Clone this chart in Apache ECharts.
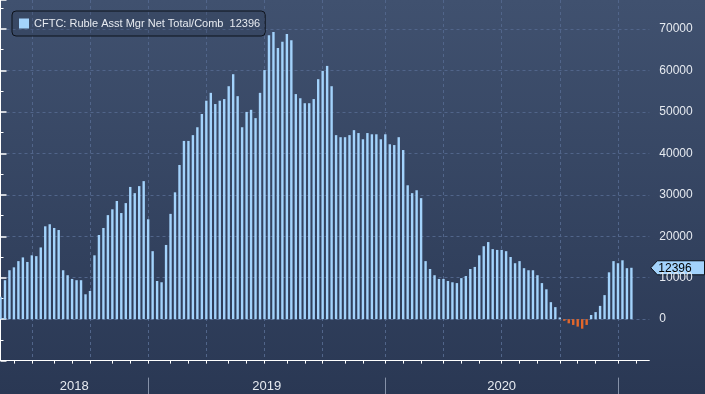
<!DOCTYPE html>
<html><head><meta charset="utf-8">
<script src="https://cdn.jsdelivr.net/npm/echarts@6/dist/echarts.min.js"></script>
<style>html,body{margin:0;padding:0;background:#2c3a56}#c{width:705px;height:394px}</style>
</head><body><div id="c"></div>
<script>
// ---- data ----
const seriesName = 'CFTC: Ruble Asst Mgr Net Total/Comb';
const startDate = [2018, 4, 15]; // first weekly observation (Tue 15 May 2018)
const values = [
  5400, 9400, 11800, 12500, 14000, 14900, 13800, 15400, 15200, 17300,
  22400, 22900, 22000, 21500, 11800, 10600, 9700, 9400, 9400, 6000,
  6800, 15400, 20300, 22000, 25100, 26500, 28500, 25600, 28000, 31900,
  30400, 32100, 33300, 24100, 16400, 9200, 8900, 17900, 25400, 30600,
  37200, 43000, 43000, 44400, 46300, 49500, 52700, 54600, 51900, 52700,
  53100, 56200, 59100, 53800, 46300, 50000, 50500, 48500, 54600, 60100,
  68500, 69300, 65400, 66900, 68800, 67300, 54300, 53300, 52100, 52100,
  53100, 57900, 59900, 61100, 56200, 44400, 43900, 43900, 44400, 45600,
  44900, 43400, 44900, 44600, 44600, 43400, 44600, 42200, 42000, 43900,
  40800, 32300, 30400, 31100, 29200, 14000, 12100, 10600, 9700, 9700,
  9200, 8900, 8700, 9900, 10400, 12100, 12600, 15400, 17600, 18600,
  16900, 16700, 16700, 16400, 15000, 13500, 14000, 12300, 11800, 11800,
  10600, 8700, 7200, 4100, 2900, 400, -400, -1000, -1400, -1800,
  -2300, -1400, 1000, 1700, 3200, 5800, 11300, 14000, 13500, 14200,
  12300, 12396
];
const emptyWeeksAfter = 4;
const yearLabels = ['2018', '2019', '2020'];
const yMin = -10000, yMax = 77000, yStep = 10000;

// ---- build ----
const N = values.length + emptyWeeksAfter;
const categories = [];
for (let i = 0; i < N; i++) {
  const d = new Date(Date.UTC(startDate[0], startDate[1], startDate[2]) + i * 7 * 86400000);
  categories.push(d.toISOString().slice(0, 10));
}
const isMonthStart = c => parseInt(c.slice(8, 10), 10) <= 7;
const isQuarterStart = c => isMonthStart(c) && (parseInt(c.slice(5, 7), 10) - 1) % 3 === 0;
const yearStarts = [];
categories.forEach((c, i) => { if (isMonthStart(c) && c.slice(5, 7) === '01') yearStarts.push(i); });
const bounds = [0].concat(yearStarts);
const yearPos = yearLabels.map((y, k) => (bounds[k] + bounds[k + 1]) / 2);
const yearByPos = {};
yearPos.forEach((p, k) => { yearByPos[p] = yearLabels[k]; });

const blue = '#a3d3fc', orange = '#e3672b';
const seriesData = values.map(v => v < 0 ? { value: v, itemStyle: { color: orange } } : v);
const last = values[values.length - 1];
const FONT = '"Liberation Sans", Arial, sans-serif';
const txt = '#e6eaf0';
const gridCol = '#51658a';

const chart = echarts.init(document.getElementById('c'), null, { renderer: 'canvas' });
chart.setOption({
  animation: false,
  backgroundColor: new echarts.graphic.LinearGradient(0, 0, 0, 1, [
    { offset: 0, color: '#40516f' }, { offset: 1, color: '#2a3854' }
  ]),
  grid: { left: 0.5, right: 55.7, top: 0, bottom: 33.4, containLabel: false },
  legend: {
    left: 12, top: 11, icon: 'rect', itemWidth: 10, itemHeight: 10,
    padding: [7, 5, 7, 7], backgroundColor: 'rgba(20,28,44,0.12)',
    borderColor: '#0d121b', borderWidth: 1, borderRadius: 4,
    textStyle: { color: txt, fontSize: 11, fontFamily: FONT },
    formatter: n => n + '  ' + last,
    data: [seriesName]
  },
  xAxis: [{
    type: 'category', data: categories, boundaryGap: false,
    axisLine: { show: true, onZero: false, lineStyle: { color: '#ffffff', width: 1 } },
    axisTick: { show: true, inside: false, length: 3, interval: (i, c) => isMonthStart(c), lineStyle: { color: '#ffffff' } },
    axisLabel: { show: false },
    splitLine: { show: true, interval: (i, c) => isQuarterStart(c), lineStyle: { color: gridCol, type: [3, 3] } }
  }, {
    type: 'value', min: 0, max: N - 1, position: 'bottom', offset: 17,
    axisLine: { show: false, onZero: false },
    axisTick: { show: true, inside: false, length: 18, customValues: yearStarts, lineStyle: { color: '#8591a8' } },
    axisLabel: { show: true, customValues: yearPos, margin: 2, formatter: v => yearByPos[v] || '', color: txt, fontSize: 13, fontFamily: FONT },
    splitLine: { show: false }
  }],
  yAxis: {
    type: 'value', position: 'right', min: yMin, max: yMax, interval: yStep,
    axisLine: { show: true, lineStyle: { color: '#ffffff', width: 1 } },
    axisTick: { show: true, inside: false, length: 6, lineStyle: { color: '#ffffff', width: 1.5 } },
    minorTick: { show: true, splitNumber: 2, length: 3, lineStyle: { color: '#ffffff' } },
    axisLabel: { color: txt, fontSize: 12, fontFamily: FONT, margin: 10, showMinLabel: false, showMaxLabel: false,
      formatter: v => (v < 0 || v > 70000) ? '' : String(v) },
    splitLine: { show: true, showMaxLine: false, showMinLine: false, lineStyle: { color: gridCol, type: [3, 3] } }
  },
  series: [{
    name: seriesName, type: 'bar', data: seriesData, barWidth: 2.4,
    itemStyle: { color: blue }, silent: true
  }]
});

const ax = chart.convertToPixel({ xAxisIndex: 1 }, N - 1);
const yv = chart.convertToPixel({ yAxisIndex: 0 }, last);
chart.setOption({
  graphic: [{
    type: 'group', children: [{
      type: 'polygon',
      shape: { points: [[ax + 1.5, yv], [ax + 8, yv - 7], [704.5, yv - 7], [704.5, yv + 7], [ax + 8, yv + 7]] },
      style: { fill: blue, stroke: '#0b1019', lineWidth: 1 }
    }, {
      type: 'text', x: ax + 9, y: yv + 0.5,
      style: { text: String(last), fill: '#000000', font: '12px ' + FONT, verticalAlign: 'middle' }
    }]
  }]
});
</script></body></html>
